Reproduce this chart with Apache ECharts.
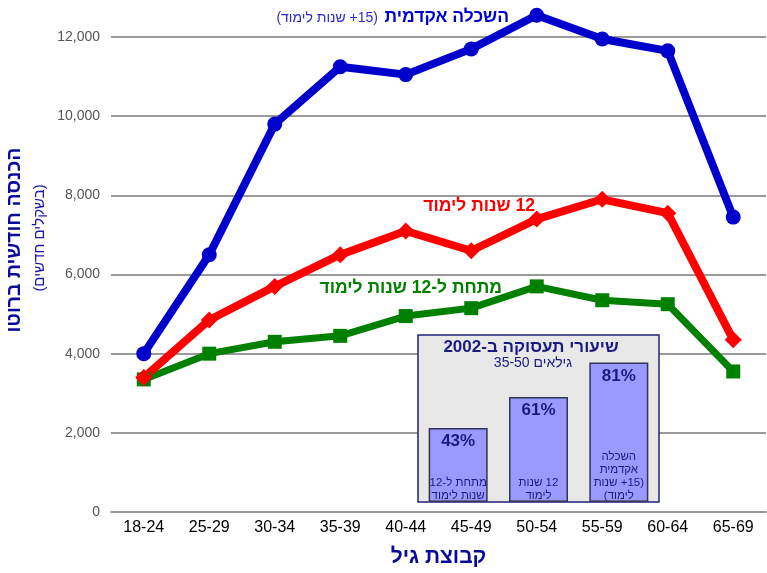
<!DOCTYPE html>
<html>
<head>
<meta charset="utf-8">
<script src="https://cdn.jsdelivr.net/npm/echarts@6/dist/echarts.min.js"></script>
<style>
  html, body { margin: 0; padding: 0; background: #fff; }
  #chart { width: 767px; height: 573px; }
</style>
</head>
<body>
<div id="chart" dir="rtl"></div>
<script>
// age groups on the x axis
const ageGroups = ['18-24', '25-29', '30-34', '35-39', '40-44', '45-49', '50-54', '55-59', '60-64', '65-69']

// gross monthly income (NIS) by education
const academic = [4000, 6500, 9800, 11250, 11050, 11700, 12550, 11950, 11650, 7450]
const twelveYears = [3400, 4850, 5700, 6500, 7100, 6600, 7400, 7900, 7550, 4350]
const belowTwelve = [3350, 4000, 4300, 4450, 4950, 5150, 5700, 5350, 5250, 3550]

// inset: employment rates 2002, ages 35-50
const rateGroups = ['מתחת ל-12\nשנות לימוד', '12 שנות\nלימוד', 'השכלה\nאקדמית\n(15+ שנות\nלימוד)']
const rates = [43, 61, 81]

const FONT = '"Liberation Sans", Arial, sans-serif'
const NAVY = '#1a1a80'

const myChart = echarts.init(document.getElementById('chart'))

function txt(x, y, text, font, fill, align, extra) {
  return Object.assign({
    type: 'text',
    x: x,
    y: y,
    z: 20,
    style: {
      text: text,
      font: font,
      fill: fill,
      align: align,
      textAlign: align,
      verticalAlign: 'middle',
      textVerticalAlign: 'middle'
    }
  }, extra || {})
}

const option = {
  animation: false,
  textStyle: { fontFamily: FONT },
  grid: [
    { left: 111, right: 1, top: 37, bottom: 61 },
    {
      left: 418, top: 335, width: 241, height: 167,
      show: true, z: 3,
      backgroundColor: '#e8e8e8', borderColor: '#20207a', borderWidth: 1.5
    }
  ],
  xAxis: [
    {
      type: 'category',
      data: ageGroups,
      boundaryGap: true,
      axisLine: { lineStyle: { color: '#999', width: 2 } },
      axisTick: { length: 6, lineStyle: { color: '#999', width: 1.5 } },
      axisLabel: { color: '#000', fontSize: 16, margin: 8, fontFamily: FONT },
      name: 'קבוצת גיל',
      nameLocation: 'middle',
      nameGap: 35,
      nameTextStyle: { color: '#0a0a9a', fontSize: 21, fontWeight: 'bold', fontFamily: FONT }
    },
    {
      gridIndex: 1,
      type: 'category',
      data: rateGroups,
      show: false
    }
  ],
  yAxis: [
    {
      type: 'value',
      min: 0,
      max: 12000,
      interval: 2000,
      axisLine: { show: false },
      axisTick: { show: false },
      splitLine: { lineStyle: { color: '#9a9a9a', width: 2 } },
      axisLabel: { color: '#555', fontSize: 14, margin: 11, padding: [0, 0, 8, 0], fontFamily: FONT }
    },
    {
      gridIndex: 1,
      type: 'value',
      min: 0,
      max: 97,
      show: false
    }
  ],
  series: [
    {
      name: 'below12',
      type: 'line',
      data: belowTwelve,
      clip: false,
      symbol: 'rect',
      symbolSize: 14,
      lineStyle: { color: '#008000', width: 7 },
      itemStyle: { color: '#008000' }
    },
    {
      name: 'twelve',
      type: 'line',
      data: twelveYears,
      clip: false,
      symbol: 'diamond',
      symbolSize: 17,
      lineStyle: { color: '#ff0000', width: 8 },
      itemStyle: { color: '#ff0000' }
    },
    {
      name: 'academic',
      type: 'line',
      data: academic,
      clip: false,
      symbol: 'circle',
      symbolSize: 15,
      lineStyle: { color: '#0000cc', width: 8 },
      itemStyle: { color: '#0000cc' }
    },
    {
      name: 'rates',
      type: 'bar',
      xAxisIndex: 1,
      yAxisIndex: 1,
      data: rates,
      barWidth: 59,
      z: 5,
      itemStyle: { color: '#9999ff', borderColor: '#333355', borderWidth: 1.5 },
      label: {
        show: true,
        position: 'insideTop',
        distance: 5,
        formatter: '{c}%',
        color: NAVY,
        fontSize: 17,
        fontWeight: 'bold',
        fontFamily: FONT
      }
    },
    {
      name: 'rateNames',
      type: 'bar',
      xAxisIndex: 1,
      yAxisIndex: 1,
      data: rates,
      barWidth: 59,
      barGap: '-100%',
      z: 6,
      itemStyle: { color: 'transparent' },
      label: {
        show: true,
        position: 'insideBottom',
        distance: 0,
        formatter: function (p) { return p.name },
        color: NAVY,
        fontSize: 11.5,
        lineHeight: 13,
        fontFamily: FONT
      }
    }
  ],
  graphic: [
    txt(509, 17, 'השכלה אקדמית', 'bold 17.5px ' + FONT, '#0000cc', 'right'),
    txt(378, 18, '(15+ שנות לימוד)', '14px ' + FONT, '#2b2bcc', 'right'),
    txt(535, 206, '12 שנות לימוד', 'bold 17.5px ' + FONT, '#ff0000', 'right'),
    txt(502, 288, 'מתחת ל-12 שנות לימוד', 'bold 17.5px ' + FONT, '#008000', 'right'),
    txt(15, 240, 'הכנסה חודשית ברוטו', 'bold 19.5px ' + FONT, '#0a0a9a', 'center', { rotation: Math.PI / 2 }),
    txt(40, 238, '(בשקלים חדשים)', '15px ' + FONT, '#1a1aa0', 'center', { rotation: Math.PI / 2 }),
    txt(531, 347, 'שיעורי תעסוקה ב-2002', 'bold 17px ' + FONT, NAVY, 'center'),
    txt(533, 363, 'גילאים 35-50', '14px ' + FONT, NAVY, 'center')
  ]
}

myChart.setOption(option)
</script>
</body>
</html>
